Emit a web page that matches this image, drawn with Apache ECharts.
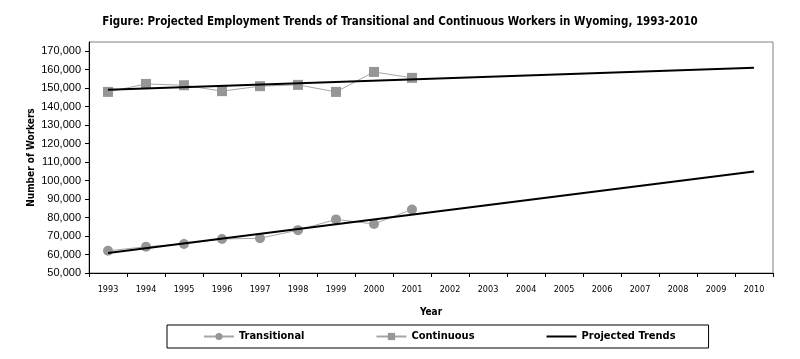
<!DOCTYPE html>
<html>
<head>
<meta charset="utf-8">
<script src="https://cdn.jsdelivr.net/npm/echarts@6/dist/echarts.min.js"></script>
<style>
html,body{margin:0;padding:0;background:#fff;}
#chart{width:800px;height:359px;}
</style>
</head>
<body>
<div id="chart"></div>
<script>
const years = ['1993','1994','1995','1996','1997','1998','1999','2000','2001','2002','2003','2004','2005','2006','2007','2008','2009','2010'];
const transitional = [62000, 64200, 65700, 68400, 68800, 73200, 79000, 76500, 84400];
const continuous = [148000, 152300, 151600, 148400, 151100, 151800, 148000, 158800, 155600];
const transitionalTrend = [['1993', 60800], ['2010', 104900]];
const continuousTrend = [['1993', 149100], ['2010', 161000]];
const yTickLabels = [50000,60000,70000,80000,90000,100000,110000,120000,130000,140000,150000,160000,170000];

const COND = "'DejaVu Sans Condensed', 'Liberation Sans', sans-serif";
const chart = echarts.init(document.getElementById('chart'), null, {renderer:'canvas'});
const fmt = v => yTickLabels.indexOf(v) >= 0 ? v.toLocaleString('en-US') : '';
chart.setOption({
  animation: false,
  backgroundColor: '#fff',
  title: {
    text: 'Figure: Projected Employment Trends of Transitional and Continuous Workers in Wyoming, 1993-2010',
    left: 'center', top: 11,
    textStyle: {fontFamily: COND, fontWeight: 'bold', fontSize: 11.5, color: '#000'}
  },
  legend: {
    left: 167, top: 325,
    padding: [6, 33, 6, 36],
    borderColor: '#000', borderWidth: 1,
    itemWidth: 30, itemHeight: 9, itemGap: 71,
    textStyle: {fontFamily: COND, fontWeight: 'bold', fontSize: 11, color: '#000'},
    data: ['Transitional', 'Continuous', {name: 'Projected Trends', itemStyle: {opacity: 0}}]
  },
  grid: {left: 89, right: 27, top: 42, bottom: 86, show: true, borderColor: '#808080', borderWidth: 1, containLabel: false},
  xAxis: {
    type: 'category', data: years, boundaryGap: true,
    name: 'Year', nameLocation: 'middle', nameGap: 34,
    nameTextStyle: {fontFamily: COND, fontWeight: 'bold', fontSize: 10, color: '#000'},
    axisLine: {lineStyle: {color: '#000', width: 1}},
    axisTick: {show: true, length: 4, lineStyle: {color: '#000'}, alignWithLabel: false},
    axisLabel: {margin: 12, fontFamily: COND, fontSize: 9, color: '#000'},
    splitLine: {show: false}
  },
  yAxis: {
    type: 'value', min: 50000, max: 175000, interval: 10000,
    name: 'Number of Workers', nameLocation: 'middle', nameGap: 53, nameMoveOverlap: false,
    nameTextStyle: {fontFamily: COND, fontWeight: 'bold', fontSize: 10, color: '#000'},
    axisLine: {show: true, lineStyle: {color: '#000', width: 1}},
    axisTick: {show: true, length: 4, lineStyle: {color: '#000'}},
    axisLabel: {margin: 8, fontFamily: "'Liberation Sans', sans-serif", fontSize: 11, color: '#000', formatter: fmt, showMaxLabel: false},
    splitLine: {show: false}
  },
  series: [
    {name: 'Transitional', type: 'line', data: transitional, symbol: 'circle', symbolSize: 10,
     itemStyle: {color: '#969696'}, lineStyle: {color: '#a6a6a6', width: 1}, z: 2},
    {name: 'Continuous', type: 'line', data: continuous, symbol: 'rect', symbolSize: 10,
     itemStyle: {color: '#969696'}, lineStyle: {color: '#a6a6a6', width: 1}, z: 2},
    {name: 'Projected Trends', type: 'line', data: transitionalTrend, symbol: 'none', showSymbol: false,
     itemStyle: {color: '#000'}, lineStyle: {color: '#000', width: 2}, z: 3},
    {name: 'Projected Trends', type: 'line', data: continuousTrend, symbol: 'none', showSymbol: false,
     itemStyle: {color: '#000'}, lineStyle: {color: '#000', width: 2}, z: 3}
  ]
});
</script>
</body>
</html>
